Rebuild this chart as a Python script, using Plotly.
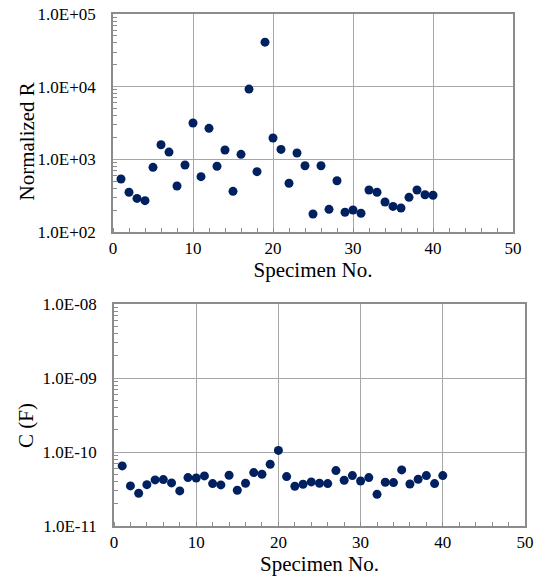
import plotly.graph_objects as go

specimen = list(range(1, 41))
norm_r = [536, 352, 290, 270, 776, 1585, 1259, 430, 835, 3160,
          577, 2670, 802, 1343, 363, 1172, 9270, 676, 41000, 1963,
          1371, 468, 1222, 816, 177, 816, 205, 508, 187, 201,
          181, 378, 352, 259, 225, 214, 300, 378, 326, 320]
cap = [6.49e-11, 3.48e-11, 2.77e-11, 3.62e-11, 4.2e-11, 4.24e-11, 3.82e-11, 2.98e-11, 4.51e-11, 4.46e-11,
       4.75e-11, 3.74e-11, 3.59e-11, 4.85e-11, 3.04e-11, 3.78e-11, 5.27e-11, 5.0e-11, 6.83e-11, 1.05e-10,
       4.65e-11, 3.44e-11, 3.66e-11, 3.94e-11, 3.78e-11, 3.74e-11, 5.61e-11, 4.15e-11, 4.8e-11, 4.06e-11,
       4.51e-11, 2.68e-11, 3.9e-11, 3.86e-11, 5.73e-11, 3.7e-11, 4.28e-11, 4.8e-11, 3.74e-11, 4.8e-11]

x_ticks = [0, 10, 20, 30, 40, 50]
r_tickvals = [1e2, 1e3, 1e4, 1e5]
r_ticktext = ["1.0E+02", "1.0E+03", "1.0E+04", "1.0E+05"]
c_tickvals = [1e-11, 1e-10, 1e-9, 1e-8]
c_ticktext = ["1.0E-11", "1.0E-10", "1.0E-09", "1.0E-08"]


def log_minor(decades):
    return [m * 10.0 ** d for d in decades for m in range(2, 10)]


W, H = 539, 587


def px(s):
    return s / W


def py(s):
    return 1 - s / H


marker = dict(color="#002060", size=9)
font = "Liberation Serif"

fig = go.Figure()
fig.add_trace(go.Scatter(x=specimen, y=norm_r, mode="markers", marker=marker,
                         xaxis="x", yaxis="y", showlegend=False))
fig.add_trace(go.Scatter(x=specimen, y=cap, mode="markers", marker=marker,
                         xaxis="x2", yaxis="y2", showlegend=False))

axis_common = dict(showline=True, linecolor="#8c8c8c", linewidth=1.5, mirror=True,
                   showgrid=True, gridcolor="#a6a6a6", gridwidth=1, zeroline=False,
                   tickfont=dict(family=font, size=17, color="black"),
                   ticks="", ticklen=0, automargin=False, ticklabeloverflow="allow")
title_font = dict(family=font, size=21, color="black")
xminor = dict(ticks="inside", ticklen=4, dtick=2, tickcolor="#8c8c8c", showgrid=False)

fig.update_layout(
    width=W, height=H,
    margin=dict(l=0, r=0, t=0, b=0),
    paper_bgcolor="white", plot_bgcolor="white",
    font=dict(family=font, color="black"),
    xaxis=dict(domain=[px(113), px(513)], anchor="y", range=[0, 50], tickvals=x_ticks,
               minor=xminor, ticklabelstandoff=0,
               title=dict(text="Specimen No.", font=title_font, standoff=0),
               **axis_common),
    yaxis=dict(domain=[py(232), py(14)], anchor="x", type="log", range=[2, 5],
               tickvals=r_tickvals, ticktext=r_ticktext, ticklabelstandoff=12,
               minor=dict(ticks="inside", ticklen=4, tickcolor="#8c8c8c", showgrid=False,
                          tickvals=log_minor([2, 3, 4])),
               **axis_common),
    xaxis2=dict(domain=[px(114), px(525)], anchor="y2", range=[0, 50], tickvals=x_ticks,
                minor=xminor, ticklabelstandoff=0,
                title=dict(text="Specimen No.", font=title_font, standoff=0),
                **axis_common),
    yaxis2=dict(domain=[py(526), py(304)], anchor="x2", type="log", range=[-11, -8],
                tickvals=c_tickvals, ticktext=c_ticktext, ticklabelstandoff=12,
                minor=dict(ticks="inside", ticklen=4, tickcolor="#8c8c8c", showgrid=False,
                           tickvals=log_minor([-11, -10, -9])),
                **axis_common),
    annotations=[
        dict(text="Normalized R", textangle=-90, xref="paper", yref="paper",
             x=px(26), y=py(141.5), xanchor="center", yanchor="middle",
             showarrow=False, font=title_font),
        dict(text="C (F)", textangle=-90, xref="paper", yref="paper",
             x=px(26), y=py(426), xanchor="center", yanchor="middle",
             showarrow=False, font=title_font),
    ],
)

fig.write_html("out.html", config={"displayModeBar": False},
               post_script="document.body.style.margin='0px';")
